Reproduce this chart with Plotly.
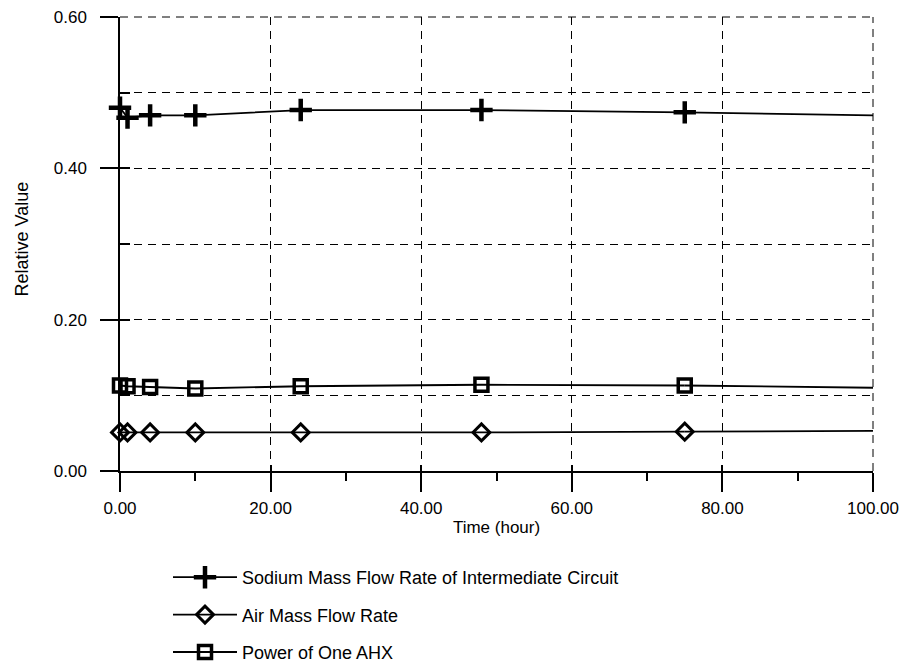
import plotly.graph_objects as go

# ---- data ----
time_markers = [0, 1, 4, 10, 24, 48, 75]
time_end = 100

sodium_flow = [0.480, 0.467, 0.470, 0.470, 0.477, 0.477, 0.474]
sodium_end = 0.470

air_flow = [0.051, 0.051, 0.051, 0.051, 0.051, 0.051, 0.052]
air_end = 0.053

ahx_power = [0.113, 0.112, 0.111, 0.109, 0.112, 0.114, 0.113]
ahx_end = 0.110

series_names = [
    "Sodium Mass Flow Rate of Intermediate Circuit",
    "Air Mass Flow Rate",
    "Power of One AHX",
]

x_ticks = [0, 20, 40, 60, 80, 100]
y_ticks = [0.0, 0.2, 0.4, 0.6]

FONT = "Liberation Sans, Arial, sans-serif"
BLACK = "black"
DASH = "8px,6px"

fig = go.Figure()

specs = [
    (series_names[0], sodium_flow, sodium_end, dict(symbol="cross-thin", size=16, line=dict(width=4.5, color=BLACK), color=BLACK)),
    (series_names[1], air_flow, air_end, dict(symbol="diamond-open", size=13, line=dict(width=3, color=BLACK), color=BLACK)),
    (series_names[2], ahx_power, ahx_end, dict(symbol="square-open", size=13, line=dict(width=3.5, color=BLACK), color=BLACK)),
]

for i, (name, vals, end, mk) in enumerate(specs):
    grp = f"g{i}"
    fig.add_trace(go.Scatter(
        x=time_markers, y=vals, mode="lines+markers", name=name,
        line=dict(color=BLACK, width=1.8), marker=mk,
        legendgroup=grp, cliponaxis=False,
    ))
    fig.add_trace(go.Scatter(
        x=[time_markers[-1], time_end], y=[vals[-1], end], mode="lines",
        line=dict(color=BLACK, width=1.8), showlegend=False,
        legendgroup=grp, hoverinfo="skip",
    ))

# dummy empty trace to register the overlay axes (inside tick marks)
fig.add_trace(go.Scatter(x=[], y=[], xaxis="x2", yaxis="y2", showlegend=False))

grid = dict(showgrid=True, gridcolor=BLACK, gridwidth=1, griddash=DASH)
X_RANGE = [0, 100]
Y_RANGE = [0, 0.6]

fig.update_layout(
    width=903, height=665,
    margin=dict(l=120, r=30, t=17, b=194, autoexpand=False),
    paper_bgcolor="white", plot_bgcolor="white",
    font=dict(family=FONT, size=17, color=BLACK),
    showlegend=True,
    legend=dict(
        xref="container", yref="container",
        x=168 / 903, y=1 - 559 / 665, xanchor="left", yanchor="top",
        font=dict(size=18), tracegroupgap=11, itemwidth=64,
        bgcolor="rgba(0,0,0,0)",
    ),
    xaxis=dict(
        range=X_RANGE, tickvals=x_ticks, tickformat=".2f", tickangle=0,
        ticks="outside", ticklen=19, tickwidth=1.5, tickcolor=BLACK,
        showline=True, linecolor=BLACK, linewidth=1.5, zeroline=False,
        minor=dict(dtick=10, tick0=0, ticks="outside", ticklen=8, tickwidth=1.5, tickcolor=BLACK, showgrid=False),
        title=dict(text="Time (hour)", standoff=4, font=dict(size=17)),
        ticklabelstandoff=2, automargin=False,
        **grid,
    ),
    xaxis2=dict(
        range=X_RANGE, overlaying="x", anchor="y2", side="bottom",
        tickvals=x_ticks, ticks="inside", ticklen=6, tickwidth=1.5, tickcolor=BLACK,
        showticklabels=False, showgrid=False, showline=False, zeroline=False,
    ),
    yaxis=dict(
        range=Y_RANGE, tickvals=y_ticks, tickformat=".2f",
        ticks="outside", ticklen=18, tickwidth=1.5, tickcolor=BLACK,
        showline=True, linecolor=BLACK, linewidth=1.5, zeroline=False,
        minor=dict(dtick=0.1, tick0=0, ticks="", showgrid=True, gridcolor=BLACK, gridwidth=1, griddash=DASH),
        ticklabelstandoff=10, automargin=False,
        **grid,
    ),
    yaxis2=dict(
        range=Y_RANGE, overlaying="y", anchor="x2", side="left",
        dtick=0.1, tick0=0, ticks="inside", ticklen=10, tickwidth=1.5, tickcolor=BLACK,
        showticklabels=False, showgrid=False, showline=False, zeroline=False,
    ),
    annotations=[dict(
        text="Relative Value", textangle=-90, showarrow=False,
        xref="paper", yref="paper", x=(22 - 120) / 753, y=0.51,
        xanchor="center", yanchor="middle", font=dict(size=18),
    )],
    # dashed frame on the top and right edges (grid lines at the range ends)
    shapes=[
        dict(type="line", xref="paper", yref="paper", x0=0, x1=1, y0=1, y1=1,
             line=dict(color=BLACK, width=1, dash=DASH)),
        dict(type="line", xref="paper", yref="paper", x0=1, x1=1, y0=0, y1=1,
             line=dict(color=BLACK, width=1, dash=DASH)),
    ],
)

fig.write_html("out.html")
